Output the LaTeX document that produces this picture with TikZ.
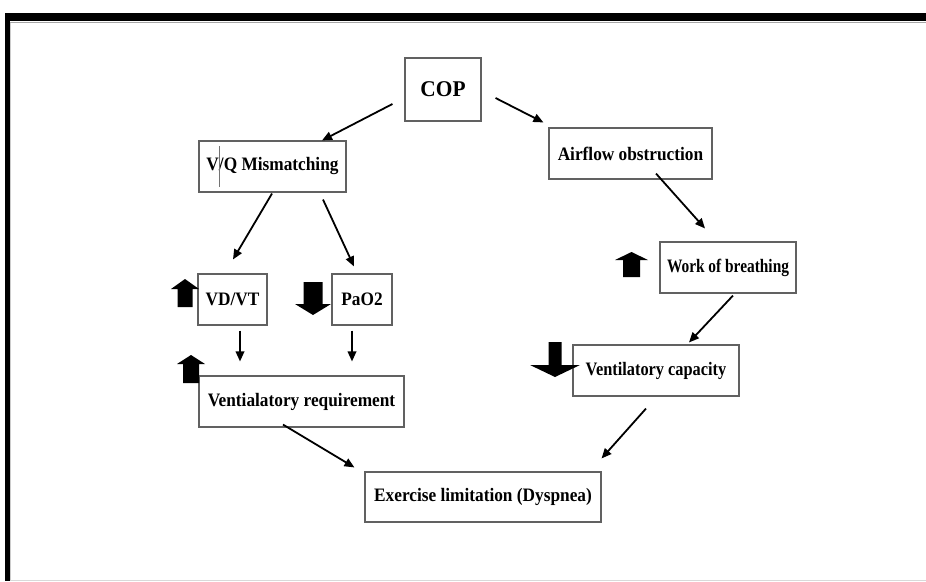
\documentclass[tikz,border=0pt]{standalone}
\usepackage{fontspec}
\setmainfont[FakeStretch=0.91]{Liberation Serif}
\newfontfamily\condwork[FakeStretch=0.81]{Liberation Serif}
\newfontfamily\condcap[FakeStretch=0.86]{Liberation Serif}
\newfontfamily\condcop[FakeStretch=0.95]{Liberation Serif}
\usetikzlibrary{arrows.meta}
\newcommand\UpBlk[6]{\fill ({#1},{#2+#6}) -- ({(#1+#3)/2},{#2}) -- ({#3},{#2+#6}) -- ({(#1+#3)/2+#5/2},{#2+#6}) -- ({(#1+#3)/2+#5/2},{#4}) -- ({(#1+#3)/2-#5/2},{#4}) -- ({(#1+#3)/2-#5/2},{#2+#6}) -- cycle;}
\newcommand\DownBlk[6]{\fill ({#1},{#4-#6}) -- ({(#1+#3)/2},{#4}) -- ({#3},{#4-#6}) -- ({(#1+#3)/2+#5/2},{#4-#6}) -- ({(#1+#3)/2+#5/2},{#2}) -- ({(#1+#3)/2-#5/2},{#2}) -- ({(#1+#3)/2-#5/2},{#4-#6}) -- cycle;}
\tikzset{
  box/.style={draw=black!62, line width=1.1pt, inner sep=0pt, font=\fontsize{19}{22}\selectfont\bfseries, minimum height=51pt},
  conn/.style={draw=black, line width=1.8pt, -{Triangle[length=10pt,width=8.5pt]}},
}
\begin{document}
\begin{tikzpicture}[x=1pt,y=-1pt]
\useasboundingbox (0,0) rectangle (926,581);
% frame
\fill[black] (5,13) rectangle (926,21);
\fill[black] (5,13) rectangle (9.5,581);
\draw[black!35, line width=1pt] (10,22.5) -- (926,22.5);
\draw[black!20, line width=0.8pt] (10.5,23) -- (10.5,581);
\draw[black!15, line width=1pt] (10,580) -- (926,580);
% boxes
\node[box, minimum width=76pt, minimum height=63pt, font=\condcop\fontsize{22.5}{24}\selectfont\bfseries] (cop) at (443,89.5) {\raisebox{-3pt}{COP}\hspace{15pt}};
\node[box, minimum width=163pt] (air) at (630.5,153.5) {Airflow obstruction};
\node[box, minimum width=147pt] (vq) at (272.5,166.5) {V/Q Mismatching};
\node[box, minimum width=69pt] (vdvt) at (232.5,299.5) {VD/VT};
\node[box, minimum width=60pt] (pao2) at (362,299.5) {PaO2};
\node[box, minimum width=136pt, font=\condwork\fontsize{19}{22}\selectfont\bfseries] (work) at (728,267.5) {Work of breathing};
\node[box, minimum width=166pt, font=\condcap\fontsize{19}{22}\selectfont\bfseries] (vcap) at (656,370.5) {Ventilatory capacity};
\node[box, minimum width=205pt] (vreq) at (301.5,401.5) {Ventialatory requirement};
\node[box, minimum width=236pt, minimum height=50pt] (ex) at (483,497) {Exercise limitation (Dyspnea)};
% stray bar in V/Q
\draw[black!55, line width=0.9pt] ([xshift=-53.5pt]vq.north) ++(0,6) -- ++(0,41);
% connectors
\draw[conn] ([shift={(-12,14.5)}]cop.west) -- ([shift={(49.5,0)}]vq.north);
\draw[conn] ([shift={(14,8.5)}]cop.east) -- ([shift={(-5,-5)}]air.north west);
\draw[conn] ([shift={(-0.5,1)}]vq.south) -- ([shift={(0.5,-14)}]vdvt.north);
\draw[conn] ([shift={(50.5,7)}]vq.south) -- ([shift={(-8,-7)}]pao2.north);
\draw[conn] ([shift={(7.5,5)}]vdvt.south) -- ([shift={(-61.5,-14)}]vreq.north);
\draw[conn] ([shift={(-10,5)}]pao2.south) -- ([shift={(50.5,-14)}]vreq.north);
\draw[conn] ([shift={(25.5,-6)}]air.south) -- ([shift={(-23,-13)}]work.north);
\draw[conn] ([shift={(5,2)}]work.south) -- ([shift={(33,-2)}]vcap.north);
\draw[conn] ([shift={(-18.5,-3)}]vreq.south) -- ([shift={(-10,-4)}]ex.north west);
\draw[conn] ([shift={(-10,12)}]vcap.south) -- ([shift={(0,-13)}]ex.north east);
% block arrows
\UpBlk{171}{279}{199}{307}{15}{10}
\UpBlk{615}{252}{648}{277}{17}{8}
\UpBlk{177}{355}{205}{383}{16}{9}
\DownBlk{295}{282}{331}{315}{19}{11}
\DownBlk{530}{342}{580}{377}{13}{12}
\end{tikzpicture}
\end{document}
